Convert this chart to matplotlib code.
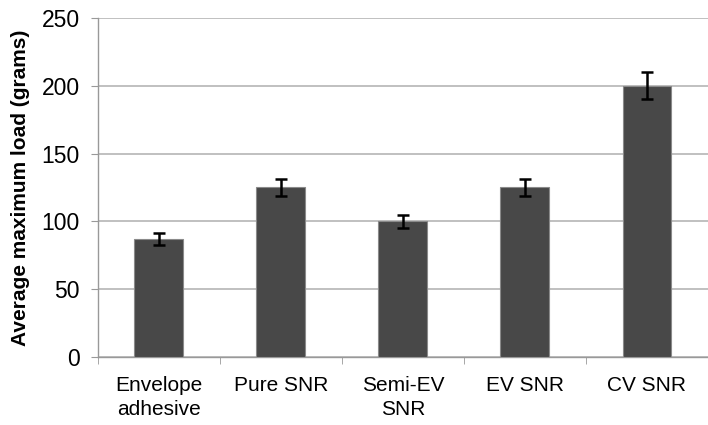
import numpy as np
import matplotlib
matplotlib.use("Agg")
import matplotlib.pyplot as plt

plt.rcParams['font.family'] = ['Liberation Sans', 'DejaVu Sans']

# Kategorier, middelværdier og fejlbarer
categories = ["Envelope\nadhesive", "Pure SNR", "Semi-EV\nSNR", "EV SNR", "CV SNR"]
loads = [87, 125, 100, 125, 200]
errors = [4.5, 6, 5, 6, 10]

fig = plt.figure(figsize=(7.08, 4.25), dpi=100)
ax = fig.add_axes([0.138, 0.16, 0.862, 0.798])

x = np.arange(len(categories))
ax.bar(x, loads, width=0.4, color="#484848", edgecolor="#8a8a8a", linewidth=0.8, zorder=3)
ax.errorbar(x, loads, yerr=errors, fmt="none", ecolor="black", elinewidth=1.8,
            capsize=4.5, capthick=1.8, zorder=4)

ax.set_xlim(-0.5, 4.5)
ax.set_ylim(0, 250)
ax.set_yticks(np.arange(0, 251, 50))
ax.tick_params(axis="y", labelsize=16.5, length=5, color="#999999", pad=8)
ax.yaxis.grid(True, color="#b5b5b5", linewidth=1.2, zorder=0)

# Kategorinavne i midten, tick-streger mellem kategorierne
ax.set_xticks(x)
ax.set_xticklabels(categories, fontsize=15, linespacing=1.3)
ax.tick_params(axis="x", length=0, pad=14)
ax.set_xticks(np.arange(-0.5, 5, 1), minor=True)
ax.tick_params(axis="x", which="minor", length=5, color="#999999")

for side in ["top", "right"]:
    ax.spines[side].set_visible(False)
for side in ["left", "bottom"]:
    ax.spines[side].set_color("#999999")
    ax.spines[side].set_linewidth(1.0)

ax.set_ylabel("Average maximum load (grams)", fontsize=15, fontweight="bold", labelpad=8)

fig.savefig("out.png", dpi=100)
